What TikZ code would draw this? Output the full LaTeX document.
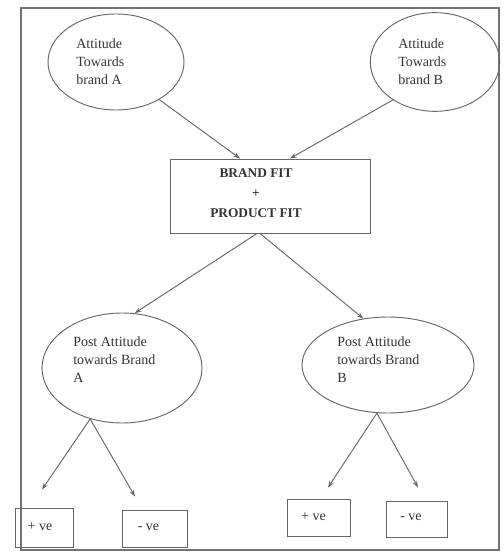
\documentclass[tikz,border=0pt]{standalone}
\usepackage{fontspec}
\setmainfont{Liberation Serif}
\usetikzlibrary{arrows.meta,shapes.geometric,calc}
\begin{document}
\begin{tikzpicture}[x=0.75pt,y=-0.75pt,
  ln/.style={draw=black!60, line width=0.7pt},
  oval/.style={ln, ellipse, inner sep=0pt},
  boxn/.style={ln, rectangle, inner sep=0pt},
  lbl/.style={font=\fontsize{10.5}{13.5}\selectfont, align=left, inner sep=0pt, text=black!80},
  blbl/.style={font=\bfseries\fontsize{10}{15}\selectfont, align=center, inner sep=0pt, text=black!80},
  arr/.style={ln, -{Stealth[length=5pt,width=3.5pt]}}]
\useasboundingbox (0,0) rectangle (503,552);
\draw[draw=black!55, line width=0.9pt] (21,8) rectangle (499,550);
% top ellipses
\node[oval, minimum width=102pt, minimum height=72pt] (eA) at (116,62) {};
\node[lbl, anchor=west] (tA) at (76,62) {Attitude\\Towards\\brand A};
\node[oval, minimum width=97pt, minimum height=74pt] (eB) at (435,62) {};
\node[lbl, anchor=west] (tB) at (398,62) {Attitude\\Towards\\brand B};
% central box
\node[boxn, minimum width=150pt, minimum height=55.5pt] (box) at (270,196) {};
\node[blbl] (tbox) at (256,193) {BRAND FIT\\+\\PRODUCT FIT};
% lower ellipses
\node[oval, minimum width=120pt, minimum height=82.5pt] (LA) at (122,368) {};
\node[lbl, anchor=north west] (tLA) at (73,337) {Post Attitude\\towards Brand\\A};
\node[oval, minimum width=129pt, minimum height=72pt] (LB) at (388,365) {};
\node[lbl, anchor=north west] (tLB) at (337,337) {Post Attitude\\towards Brand\\B};
% bottom boxes
\node[boxn, minimum width=43.5pt, minimum height=29.25pt] (b1) at (44,527.5) {};
\node[lbl] (t1) at (40,527) {+ ve};
\node[boxn, minimum width=48.75pt, minimum height=27.75pt] (b2) at (154.5,528.5) {};
\node[lbl] (t2) at (148.5,527) {- ve};
\node[boxn, minimum width=47.25pt, minimum height=27.75pt] (b3) at (318.5,517.5) {};
\node[lbl] (t3) at (313.5,517) {+ ve};
\node[boxn, minimum width=45.75pt, minimum height=27pt] (b4) at (416.5,519) {};
\node[lbl] (t4) at (411,517) {- ve};
% connectors
\draw[arr] (eA.-41) -- ($(box.north)+(-30,0)$);
\draw[arr] (eB.-138) -- ($(box.north)+(20,0)$);
\draw[arr] ($(box.south)+(-13,0)$) -- (LA.77);
\draw[arr] ($(box.south)+(-10,0)$) -- (LB.118);
\draw[arr] (LA.-122) -- ($(b1.north)+(-2,-18)$);
\draw[arr] (LA.-122) -- ($(b2.north)+(-19.5,-13)$);
\draw[arr] (LB.-103) -- ($(b3.north)+(9.5,-11)$);
\draw[arr] (LB.-103) -- ($(b4.north)+(1.5,-13)$);
\end{tikzpicture}
\end{document}
